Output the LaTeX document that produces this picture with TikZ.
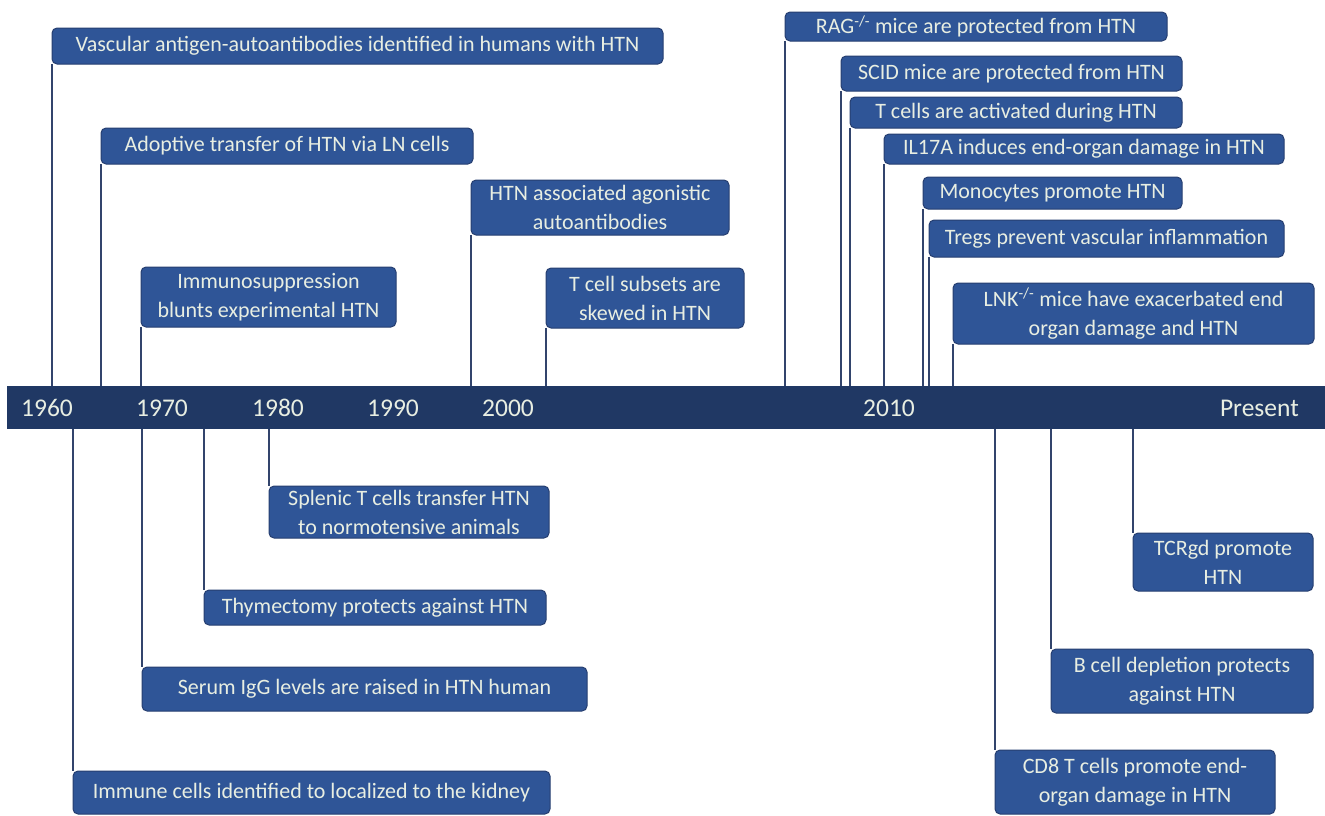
\documentclass[tikz,border=0pt]{standalone}
\usepackage{fontspec}
\setmainfont{Carlito}
\usetikzlibrary{positioning}
\definecolor{HTNbox}{RGB}{47,85,151}
\definecolor{HTNedge}{RGB}{38,62,112}
\definecolor{HTNbar}{RGB}{32,56,100}
\definecolor{HTNline}{RGB}{50,68,108}
\definecolor{HTNtext}{RGB}{232,238,226}

\begin{document}
\begin{tikzpicture}[x=1pt, y=-1pt,
    ev/.style={draw=HTNedge, line width=1pt, fill=HTNbox, rounded corners=5pt, text=HTNtext,
      anchor=north west, align=center, inner sep=0pt, outer sep=0pt,
      font=\fontsize{22}{29}\selectfont},
    link/.style={draw=HTNline, line width=1.6pt},
    yr/.style={text=HTNtext, inner sep=0pt, font=\fontsize{25.5}{28}\selectfont}]
  \useasboundingbox (0,0) rectangle (1325,815);
  % Timeline bar
  \node[fill=HTNbar, anchor=north west, minimum width=1318pt, minimum height=43pt,
    inner sep=0pt, outer sep=0pt] (bar) at (7,386) {};
  \node[yr] (y60) at (47,408) {1960};
  \node[yr] (y70) at (162,408) {1970};
  \node[yr] (y80) at (278,408) {1980};
  \node[yr] (y90) at (393,408) {1990};
  \node[yr] (y00) at (508,408) {2000};
  \node[yr] (y10) at (889,408) {2010};
  \node[yr, anchor=east] (now) at (1299,408) {Present};
  % Events above the bar
  \node[ev, minimum width=611pt, minimum height=36pt] (va) at (52,28)
    {Vascular antigen-autoantibodies identified in humans with HTN};
  \node[ev, minimum width=372pt, minimum height=36pt] (ad) at (101,128)
    {Adoptive transfer of HTN via LN cells};
  \node[ev, minimum width=255pt, minimum height=60pt] (im) at (141,267)
    {Immunosuppression\\blunts experimental HTN};
  \node[ev, minimum width=258pt, minimum height=55pt] (ag) at (471,180)
    {HTN associated agonistic\\autoantibodies};
  \node[ev, minimum width=198pt, minimum height=60pt] (ts) at (546,268)
    {T cell subsets are\\skewed in HTN};
  \node[ev, minimum width=382pt, minimum height=29pt] (rag) at (785,12)
    {RAG\textsuperscript{-/-} mice are protected from HTN};
  \node[ev, minimum width=341pt, minimum height=35pt] (scid) at (841,56)
    {SCID mice are protected from HTN};
  \node[ev, minimum width=332pt, minimum height=31pt] (tca) at (850,97)
    {T cells are activated during HTN};
  \node[ev, minimum width=400pt, minimum height=30pt] (il) at (884,134)
    {IL17A induces end-organ damage in HTN};
  \node[ev, minimum width=259pt, minimum height=32pt] (mono) at (923,177)
    {Monocytes promote HTN};
  \node[ev, minimum width=355pt, minimum height=37pt] (treg) at (929,220)
    {Tregs prevent vascular inflammation};
  \node[ev, minimum width=361pt, minimum height=61pt] (lnk) at (953,283)
    {LNK\textsuperscript{-/-} mice have exacerbated end\\organ damage and HTN};
  % Events below the bar
  \node[ev, minimum width=280pt, minimum height=52pt] (sp) at (269,486)
    {Splenic T cells transfer HTN\\to normotensive animals};
  \node[ev, minimum width=342pt, minimum height=35pt] (th) at (204,590)
    {Thymectomy protects against HTN};
  \node[ev, minimum width=445pt, minimum height=44pt] (se) at (142,667)
    {Serum IgG levels are raised in HTN human};
  \node[ev, minimum width=477pt, minimum height=43pt] (ic) at (73,771)
    {Immune cells identified to localized to the kidney};
  \node[ev, minimum width=180pt, minimum height=58pt] (tcr) at (1133,533)
    {TCRgd promote\\HTN};
  \node[ev, minimum width=262pt, minimum height=64pt] (bc) at (1051,649)
    {B cell depletion protects\\against HTN};
  \node[ev, minimum width=280pt, minimum height=64pt] (cd) at (995,750)
    {CD8 T cells promote end-\\organ damage in HTN};
  % Connectors to the bar
  \foreach \n in {va,ad,im,ag,ts,rag,scid,tca,il,mono,treg,lnk}
    \draw[link] (\n.south west) -- (\n.south west |- bar.north);
  \foreach \n in {sp,th,se,ic,tcr,bc,cd}
    \draw[link] (bar.south -| \n.north west) -- (\n.north west);
\end{tikzpicture}
\end{document}
